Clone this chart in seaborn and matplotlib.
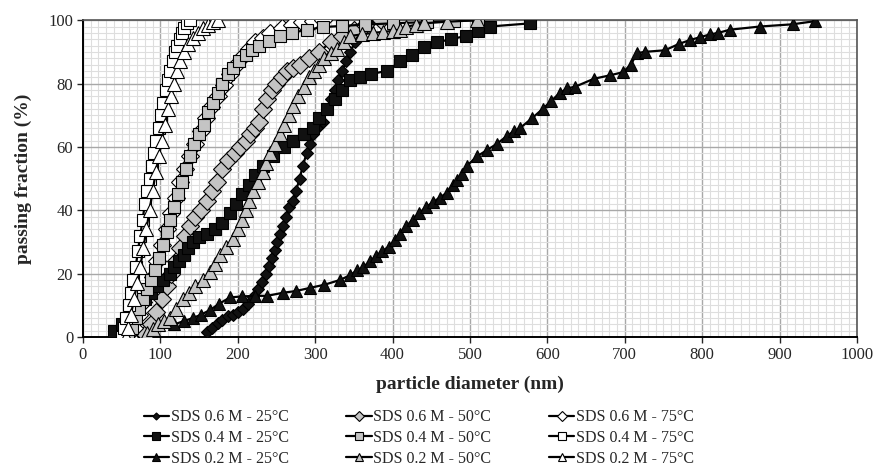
import numpy as np
import matplotlib
matplotlib.use("Agg")
import matplotlib.pyplot as plt
from matplotlib.ticker import MultipleLocator
import seaborn as sns

# passing fraction curves (diameter nm, passing %)
d25_x = [160, 167, 174, 180, 187, 194, 200, 207, 213, 220, 226, 231, 236, 240, 244, 248, 251, 255, 258, 262,
         266, 271, 275, 280, 284, 289, 293, 297, 303, 310, 315, 320, 325, 330, 335, 340, 345, 352, 358, 367]
d25_y = [1.5, 3, 4.5, 5.5, 6.5, 7, 8, 9, 10.5, 12.5, 15, 17.5, 20, 22.5, 25, 27.5, 30, 32.5, 35, 38,
         41, 43, 46, 50, 54, 58, 61, 64, 66, 68, 72, 75, 78, 81, 84, 87, 90, 93, 96, 100]

d50_x = [80, 88, 95, 102, 108, 114, 120, 126, 132, 138, 145, 152, 160, 167, 173, 180, 188, 196, 203, 210,
         216, 222, 228, 233, 238, 244, 250, 257, 263, 271, 280, 292, 305, 320, 335, 350, 365, 385]
d50_y = [1, 4, 8, 12, 16, 20, 24, 28, 32, 35, 38, 40, 43, 46, 49, 53, 56, 58, 60, 62,
         64, 66, 68, 72, 75, 78, 80, 82, 84, 85, 86, 88, 90, 93, 95, 97, 98.5, 100]

d75_x = [60, 66, 72, 78, 84, 90, 96, 102, 108, 114, 120, 126, 132, 138, 145, 152, 159, 166, 174, 182,
         190, 198, 206, 214, 222, 232, 242, 257, 270, 283, 297, 310]
d75_y = [0, 3, 7, 11, 15, 19, 24, 29, 34, 39, 44, 49, 53, 57, 61, 65, 69, 72.5, 76, 79.5,
         83, 86, 88.5, 91, 93, 94.5, 96, 97.5, 98.5, 99.3, 99.8, 100]

s25_x = [40, 50, 58, 65, 72, 80, 88, 96, 104, 112, 118, 124, 130, 136, 142, 150, 160, 170, 180, 190,
         198, 206, 214, 222, 232, 245, 260, 272, 285, 297, 305, 315, 325, 335, 345, 358, 372, 393, 410, 425,
         440, 458, 475, 495, 510, 526, 578]
s25_y = [2, 4, 6, 8, 10, 12, 14, 16, 18, 20, 22, 24, 26, 28, 30, 31.5, 32.5, 34, 36, 39,
         42, 45, 48, 51, 54, 57, 60, 62, 64, 66, 69, 72, 75, 78, 81, 82, 83, 84, 87, 89,
         91.5, 93, 94, 95, 96.5, 98, 99]

s50_x = [58, 63, 68, 73, 78, 83, 88, 93, 98, 103, 108, 113, 118, 123, 128, 133, 138, 144, 150, 156,
         162, 168, 174, 180, 187, 194, 202, 210, 218, 228, 240, 255, 270, 290, 310, 335, 365, 400, 445, 480, 510]
s50_y = [0, 3, 6, 9, 12, 15, 18, 21, 25, 29, 33, 37, 41, 45, 49, 53, 57, 61, 64, 67,
         71, 74, 77, 80, 83, 85, 87, 89, 90.5, 92, 93.5, 95, 96, 97, 97.8, 98.2, 98.6, 99, 99.4, 99.7, 100]

s75_x = [50, 53, 56, 59, 62, 65, 68, 71, 74, 77, 80, 83, 86, 89, 92, 95, 98, 101, 104, 107,
         110, 113, 116, 119, 122, 125, 128, 131, 134, 138]
s75_y = [0, 3, 6, 10, 14, 18, 22, 27, 32, 37, 42, 46, 50, 54, 58, 62, 66, 70, 74, 78,
         81, 84, 87, 90, 92, 94, 96, 97.5, 99, 100]

t25_x = [118, 130, 142, 152, 164, 176, 190, 205, 222, 238, 259, 275, 293, 312, 332, 345, 354, 362, 371, 379,
         386, 395, 403, 410, 418, 426, 434, 443, 452, 461, 470, 478, 483, 490, 496, 509, 522, 535, 548, 557,
         565, 580, 594, 605, 616, 626, 636, 660, 681, 698, 708, 716, 726, 752, 770, 784, 797, 810, 821, 836,
         875, 917, 946]
t25_y = [4, 5, 6, 7, 8.5, 10.5, 12.5, 12.8, 13, 13, 14, 14.5, 15.5, 16.5, 18, 19.5, 21, 22, 24, 25.5,
         27, 28.5, 30.5, 32.5, 35, 37, 39, 41, 42.5, 44, 45.5, 48, 49.5, 51.5, 54, 57, 59, 61, 63.5, 65,
         66, 69, 72, 74.5, 77, 78.5, 79, 81.5, 82.6, 83.6, 86, 89.6, 90, 90.5, 92.5, 93.7, 94.6, 95.5, 96, 97,
         98, 98.7, 99.7]

t50_x = [83, 90, 97, 105, 112, 120, 129, 137, 145, 155, 164, 170, 177, 185, 194, 200, 205, 210, 215, 220,
         226, 232, 237, 242, 248, 254, 260, 266, 272, 278, 285, 292, 298, 305, 312, 320, 328, 337, 345, 360,
         375, 388, 400, 410, 418, 430, 440, 470, 509]
t50_y = [1.3, 2.5, 4, 5, 6, 9, 12, 14, 16, 18, 20.5, 23, 26, 28.5, 31, 34, 37, 40, 43, 46,
         49, 52, 55, 58, 61, 64, 67, 70, 73, 76, 79, 82, 84, 86, 88, 89.5, 91, 93, 95, 95.5,
         96, 96.3, 96.6, 97, 98, 98.5, 99, 99.5, 100]

t75_x = [55, 58, 62, 66, 70, 74, 78, 82, 86, 90, 94, 98, 102, 106, 110, 114, 118, 122, 126, 131,
         136, 142, 148, 155, 162, 168, 174]
t75_y = [0, 3, 7, 12, 17, 22, 28, 34, 40, 46, 52, 57, 62, 67, 72, 76, 80, 84, 87, 90,
         92.5, 94.5, 96, 97.5, 98.5, 99.3, 100]

# label, x, y, marker, fill, size  (Excel draw order)
series = [
    ("SDS 0.6 M - 25°C", d25_x, d25_y, "D", "#111111", 6),
    ("SDS 0.6 M - 50°C", d50_x, d50_y, "D", "#c4c4c4", 9),
    ("SDS 0.6 M - 75°C", d75_x, d75_y, "D", "white", 9),
    ("SDS 0.4 M - 25°C", s25_x, s25_y, "s", "#111111", 9),
    ("SDS 0.4 M - 50°C", s50_x, s50_y, "s", "#c4c4c4", 9),
    ("SDS 0.4 M - 75°C", s75_x, s75_y, "s", "white", 9),
    ("SDS 0.2 M - 25°C", t25_x, t25_y, "^", "#111111", 9),
    ("SDS 0.2 M - 50°C", t50_x, t50_y, "^", "#c4c4c4", 10),
    ("SDS 0.2 M - 75°C", t75_x, t75_y, "^", "white", 10),
]

sns.set_style("ticks")
plt.rcParams["font.family"] = ["Liberation Serif", "DejaVu Serif"]

fig = plt.figure(figsize=(8.78, 4.69), dpi=100)
ax = fig.add_axes([0.0945, 0.2814, 0.8815, 0.6756])

for i, (lab, xs, ys, mk, fc, ms) in enumerate(series):
    sns.lineplot(x=xs, y=ys, ax=ax, sort=False, estimator=None, color="black", linewidth=1.6,
                 marker=mk, markersize=ms, markerfacecolor=fc, markeredgecolor="black",
                 markeredgewidth=0.8, label=lab, zorder=3 + i)

ax.set_xlim(0, 1000)
ax.set_ylim(0, 100)
ax.xaxis.set_major_locator(MultipleLocator(100))
ax.xaxis.set_minor_locator(MultipleLocator(10))
ax.yaxis.set_major_locator(MultipleLocator(20))
ax.yaxis.set_minor_locator(MultipleLocator(2))
ax.grid(which="minor", color="#dedede", linewidth=0.8)
ax.grid(which="major", color="#a8a8a8", linewidth=1.0)
ax.set_axisbelow(True)
ax.tick_params(which="major", direction="out", length=4, width=1, labelsize=12, pad=3)
ax.tick_params(which="minor", length=0)
for side in ["left", "bottom"]:
    ax.spines[side].set_color("black")
    ax.spines[side].set_linewidth(1.4)
for side in ["top", "right"]:
    ax.spines[side].set_color("#555555")
    ax.spines[side].set_linewidth(1.2)

ax.set_xlabel("particle diameter (nm)", fontsize=14, fontweight="bold", labelpad=9)
ax.set_ylabel("passing fraction (%)", fontsize=14, fontweight="bold", labelpad=12)

h, l = ax.get_legend_handles_labels()
ax.get_legend().remove()
order = [0, 3, 6, 1, 4, 7, 2, 5, 8]
fig.legend([h[k] for k in order], [l[k] for k in order], loc="center", ncol=3,
           bbox_to_anchor=(0.477, 0.066), frameon=False, fontsize=11.5, markerscale=0.6,
           handlelength=1.6, handletextpad=0.1, columnspacing=3.6, labelspacing=0.3)

fig.savefig("out.png", dpi=100)
